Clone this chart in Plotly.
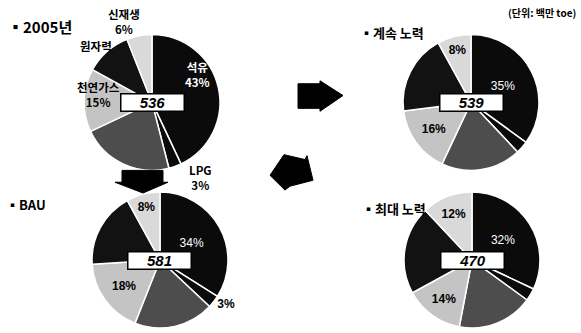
import plotly.graph_objects as go

W, H = 581, 333

# ---- data ----
categories = ["석유", "LPG", "석탄", "천연가스", "원자력", "신재생"]
scenario_names = ["2005년", "계속 노력", "BAU", "최대 노력"]
totals = [536, 539, 581, 470]
share_2005 = [43, 3, 22, 15, 11, 6]
share_continued = [35, 3, 19, 16, 19, 8]
share_bau = [34, 3, 19, 18, 18, 8]
share_max = [32, 3, 18, 14, 21, 12]
unit_label = "(단위: 백만 toe)"

# ---- styles ----
slice_colors = ["#0b0b0b", "#0b0b0b", "#4d4d4d", "#c4c4c4", "#121212", "#d9d9d9"]
FONT = "Noto Sans CJK KR"
NUMFONT = "Liberation Sans"


def px_x(x):
    return x / W


def px_y(y):
    return 1 - y / H


def domain(cx, cy, d):
    return dict(x=[px_x(cx - d / 2), px_x(cx + d / 2)],
                y=[px_y(cy + d / 2), px_y(cy - d / 2)])


def slice_texts(vals, show):
    out = []
    for c, v, s in zip(categories, vals, show):
        if s == "pct":
            out.append(f"{v}%")
        elif s == "bpct":
            out.append(f"<b>{v}%</b>")
        else:
            out.append("")
    return out


fig = go.Figure()

pies = [
    # values, center, text mode, positions, text colors
    (share_2005, (152, 104),
     ["", "", "", "", "", ""],
     ["none", "none", "none", "none", "none", "none"],
     ["white", "black", "black", "black", "black", "black"]),
    (share_continued, (471, 104),
     ["pct", "", "", "bpct", "", "bpct"],
     ["inside", "none", "none", "inside", "none", "inside"],
     ["white", "black", "black", "black", "black", "black"]),
    (share_bau, (160, 264),
     ["pct", "bpct", "", "bpct", "", "bpct"],
     ["inside", "outside", "none", "inside", "none", "inside"],
     ["white", "black", "black", "black", "black", "black"]),
    (share_max, (472, 264),
     ["pct", "", "", "bpct", "", "bpct"],
     ["inside", "none", "none", "inside", "none", "inside"],
     ["white", "black", "black", "black", "black", "black"]),
]

D = 138
for vals, (cx, cy), mode, pos, tcol in pies:
    fig.add_trace(go.Pie(
        labels=categories, values=vals, sort=False, direction="clockwise",
        rotation=0, domain=domain(cx, cy, D),
        marker=dict(colors=slice_colors, line=dict(color="white", width=1.5)),
        text=slice_texts(vals, mode), textinfo="text", textposition=pos,
        insidetextorientation="horizontal",
        textfont=dict(family=NUMFONT, size=12, color=tcol),
        outsidetextfont=dict(family=NUMFONT, size=12, color="black"),
        hoverinfo="label+percent", showlegend=False,
    ))

# 2005 slice labels placed around the pie (as in the reference)
labels_2005 = [
    (0, 197, 76, "white", True),   # 석유
    (1, 200, 180, "black", True),  # LPG
    (3, 98, 96, "black", True),    # 천연가스
    (4, 96, 47, "black", False),   # 원자력
    (5, 124, 22, "black", True),   # 신재생
]
for idx, lx, ly, col, with_pct in labels_2005:
    txt = f"<b>{categories[idx]}<br>{share_2005[idx]}%</b>" if with_pct \
        else f"<b>{categories[idx]}</b>"
    fig.add_annotation(x=px_x(lx), y=px_y(ly), xref="paper", yref="paper",
                       xanchor="center", yanchor="middle", showarrow=False,
                       text=txt, font=dict(family=FONT, size=11.5, color=col))

# center total labels
for tot, (_, (cx, cy), *_r) in zip(totals, pies):
    fig.add_annotation(x=px_x(cx), y=px_y(cy), xref="paper", yref="paper",
                       xanchor="center", yanchor="middle",
                       text=f"<b><i>{tot}</i></b>", showarrow=False,
                       font=dict(family=NUMFONT, size=15, color="black"),
                       bgcolor="white", bordercolor="black", borderwidth=1.5,
                       borderpad=0, width=62, height=16)

# titles
titles = [(6, 27, 15), (358, 33, 13), (4, 208, 13), (360, 212, 13)]
for name, (tx, ty, fs) in zip(scenario_names, titles):
    fig.add_annotation(x=px_x(tx), y=px_y(ty), xref="paper", yref="paper",
                       xanchor="left", yanchor="middle", showarrow=False,
                       text=f"<b>▪{name}</b>",
                       font=dict(family=FONT, size=fs, color="black"))

fig.add_annotation(x=px_x(578), y=px_y(13), xref="paper", yref="paper",
                   xanchor="right", yanchor="middle", showarrow=False,
                   text=f"<b>{unit_label}</b>",
                   font=dict(family=FONT, size=10, color="black"))


# arrows (decoration)
def poly(points):
    p = "M " + " L ".join(f"{px_x(x):.5f},{px_y(y):.5f}" for x, y in points) + " Z"
    return dict(type="path", path=p, xref="paper", yref="paper",
                fillcolor="black", line=dict(color="black", width=1))


fig.add_shape(poly([(298, 85), (320, 85), (320, 82), (343, 97), (320, 113),
                    (320, 110), (298, 110)]))
fig.add_shape(poly([(122, 173), (163, 173), (163, 185), (168, 185), (143, 196),
                    (115, 185), (122, 185)]))
fig.add_shape(poly([(284, 157), (305, 162), (307, 158), (313, 183), (290, 189),
                    (285, 193), (270, 178)]))

fig.update_layout(width=W, height=H, margin=dict(l=0, r=0, t=0, b=0),
                  paper_bgcolor="white", plot_bgcolor="white",
                  font=dict(family=FONT))

fig.write_html("out.html")
